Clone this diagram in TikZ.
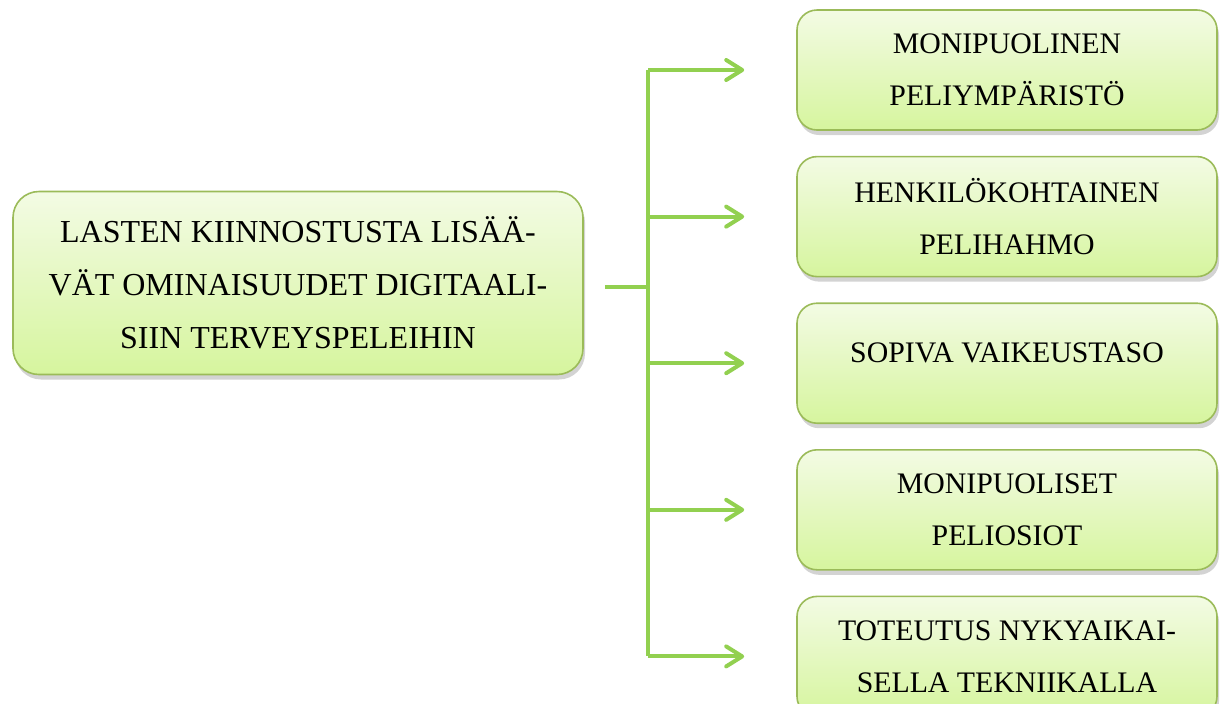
\documentclass[tikz,border=0pt]{standalone}
\usepackage{fontspec}
\setmainfont{Liberation Serif}
\usetikzlibrary{positioning, arrows.meta, shadows}

\definecolor{raja}{HTML}{9BBB59}
\definecolor{nuoli}{HTML}{92D050}
\definecolor{ylavari}{HTML}{F3FBE4}
\definecolor{alavari}{HTML}{D6F59E}

\begin{document}
\begin{tikzpicture}[x=0.5pt, y=-0.5pt,
    laatikko/.style={draw=raja, line width=0.8pt, rounded corners=13pt,
        top color=ylavari, bottom color=alavari,
        drop shadow={shadow xshift=1pt, shadow yshift=-2.5pt, opacity=0.35},
        align=center, font=\fontsize{16}{26.5}\selectfont},
    pieni/.style={laatikko, minimum width=210pt, minimum height=60pt, rounded corners=10pt,
        font=\fontsize{14.9}{26}\selectfont},
    nuolet/.style={draw=nuoli, line width=2pt, -{Straight Barb[length=8pt, width=10pt, round]}}]
    \useasboundingbox (0,0) rectangle (1222,703);

    % Pääkäsite
    \node[laatikko, minimum width=285pt, minimum height=91.5pt] (paa) at (298,283)
        {LASTEN KIINNOSTUSTA LISÄÄ-\\VÄT OMINAISUUDET DIGITAALI-\\SIIN TERVEYSPELEIHIN};

    % Ominaisuudet
    \node[pieni] (b1) at (1007,70) {MONIPUOLINEN\\PELIYMPÄRISTÖ};
    \node[pieni, below=12.5pt of b1] (b2) {HENKILÖKOHTAINEN\\PELIHAHMO};
    \node[pieni, below=12.5pt of b2, text depth=11pt] (b3) {SOPIVA VAIKEUSTASO};
    \node[pieni, below=12.5pt of b3] (b4) {MONIPUOLISET\\PELIOSIOT};
    \node[pieni, below=12.5pt of b4] (b5) {TOTEUTUS NYKYAIKAI-\\SELLA TEKNIIKALLA};

    % Haarautuva nuoli
    \coordinate (runko) at (648,287);
    \draw[draw=nuoli, line width=2pt] ([xshift=10.5pt]paa.east |- runko) -- (runko);
    \draw[draw=nuoli, line width=2pt] (runko |- b1) -- (runko |- b5);
    \foreach \i in {1,...,5} {
        \draw[nuolet, shorten >=26pt] (runko |- b\i) -- (b\i);
    }
\end{tikzpicture}
\end{document}
